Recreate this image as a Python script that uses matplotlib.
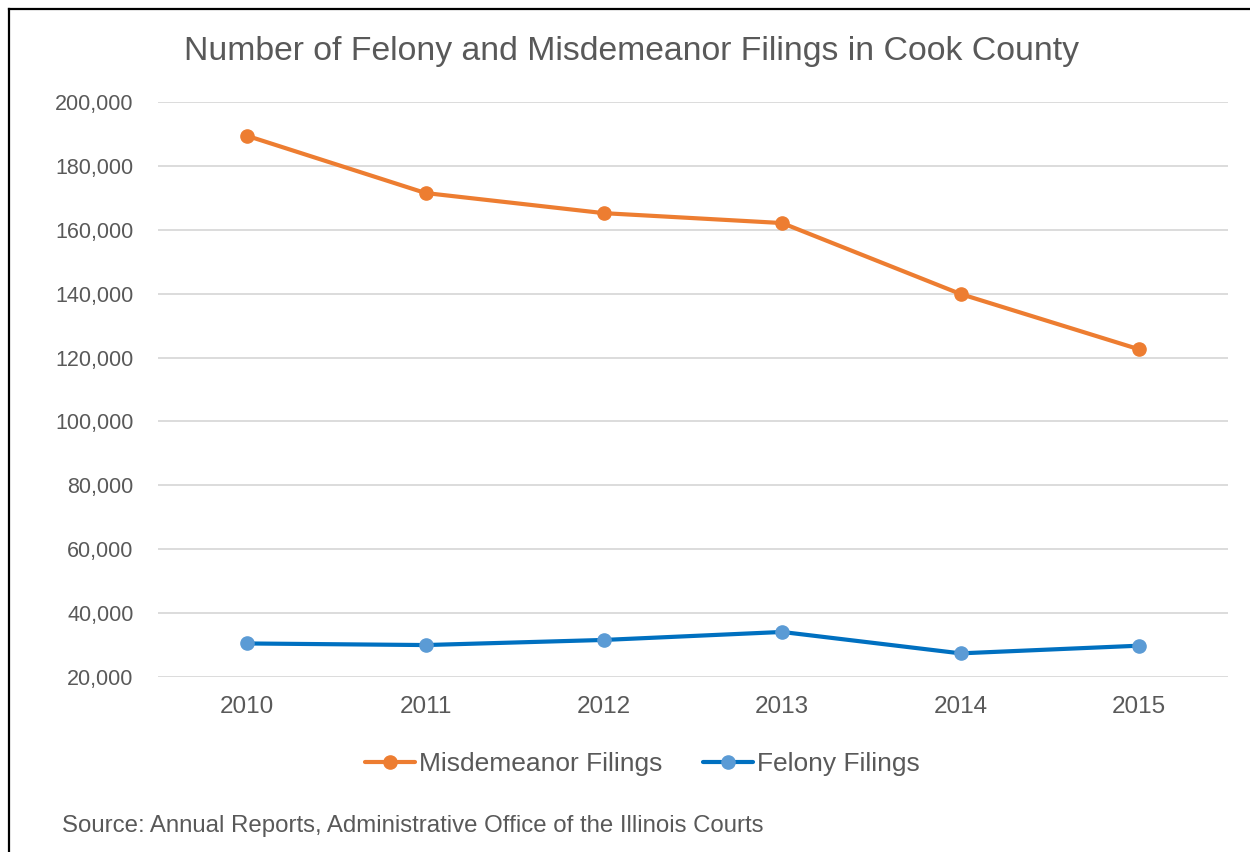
import matplotlib
matplotlib.use("Agg")
import matplotlib.pyplot as plt
from matplotlib.lines import Line2D
from matplotlib.ticker import FuncFormatter

plt.rcParams['font.family'] = ['Liberation Sans', 'DejaVu Sans']

years = ['2010', '2011', '2012', '2013', '2014', '2015']
misdemeanor = [189400, 171500, 165200, 162100, 139900, 122600]
felony = [30500, 30000, 31600, 34100, 27400, 29800]

grey = '#595959'

fig = plt.figure(figsize=(12.5, 8.52), dpi=100)
ax = fig.add_axes([0.1264, 0.2054, 0.856, 0.6749])

x = range(len(years))
ax.plot(x, misdemeanor, color='#ED7D31', lw=3, marker='o', markersize=9.5,
        markerfacecolor='#ED7D31', markeredgecolor='#ED7D31',
        label='Misdemeanor Filings', solid_capstyle='round')
ax.plot(x, felony, color='#0070C0', lw=3, marker='o', markersize=9.5,
        markerfacecolor='#5B9BD5', markeredgecolor='#5B9BD5',
        label='Felony Filings', solid_capstyle='round')

ax.set_xlim(-0.5, len(years) - 0.5)
ax.set_ylim(20000, 200000)
ax.set_yticks(range(20000, 200001, 20000))
ax.yaxis.set_major_formatter(FuncFormatter(lambda v, p: f'{int(v):,}'))
ax.set_xticks(list(x))
ax.set_xticklabels(years)
ax.tick_params(axis='both', length=0, labelcolor=grey)
ax.tick_params(axis='y', pad=17.5, labelsize=15.5)
ax.tick_params(axis='x', pad=14, labelsize=17.5)
ax.grid(axis='y', color='#D9D9D9', lw=1.3)
ax.set_axisbelow(True)
for s in ax.spines.values():
    s.set_visible(False)

fig.text(0.505, 0.940, 'Number of Felony and Misdemeanor Filings in Cook County',
         ha='center', va='center', fontsize=24.3, color=grey)

fig.legend(loc='center', bbox_to_anchor=(0.514, 0.103), ncol=2, frameon=False,
           fontsize=19, labelcolor=grey, handlelength=1.9, handletextpad=0.15,
           columnspacing=1.55)

fig.text(0.0496, 0.030, 'Source: Annual Reports, Administrative Office of the Illinois Courts',
         ha='left', va='center', fontsize=17.3, color=grey)

# outer border (left and top visible)
fig.add_artist(Line2D([0.0068, 0.0068], [0.0, 0.9895], transform=fig.transFigure,
                      color='black', lw=1.6))
fig.add_artist(Line2D([0.0068, 1.0], [0.9895, 0.9895], transform=fig.transFigure,
                      color='black', lw=1.6))

fig.savefig('out.png', dpi=100)
